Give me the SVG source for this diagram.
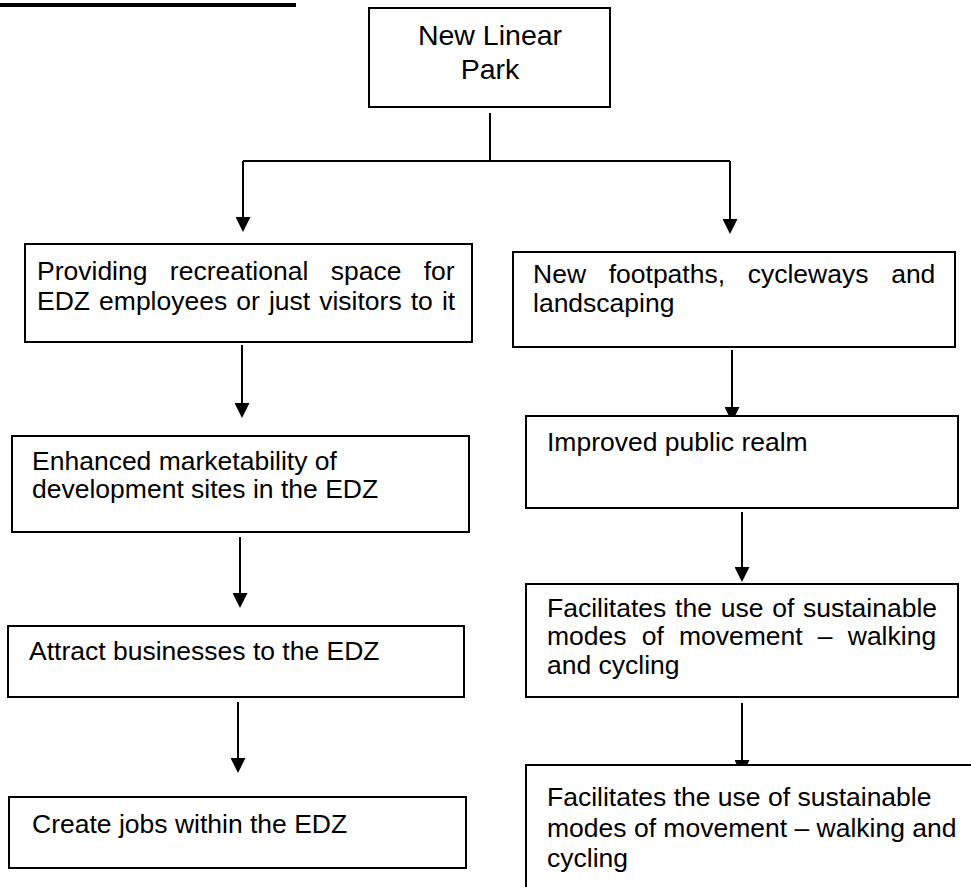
<svg xmlns="http://www.w3.org/2000/svg" width="971" height="887" viewBox="0 0 971 887">
<style>
.box{fill:#fff;stroke:#000;stroke-width:2}
.t{font-family:"Liberation Sans",Arial,sans-serif;font-size:26.5px;fill:#000}
.c{fill:none;stroke:#000;stroke-width:2}
</style>
<defs>
<marker id="ah" viewBox="0 0 15 15" refX="7" refY="7.5" markerWidth="15" markerHeight="15" markerUnits="userSpaceOnUse" orient="auto">
<path d="M0,0 L15,7.5 L0,15 z" fill="#000"/>
</marker>
</defs>
<rect x="0" y="3" width="296" height="4" fill="#000"/>
<g id="connectors">
<path class="c" d="M490,113 V161"/>
<path class="c" d="M243,161 H730"/>
<path class="c" d="M243,161 V224" marker-end="url(#ah)"/>
<path class="c" d="M730,161 V226" marker-end="url(#ah)"/>
<path class="c" d="M242,345 V410" marker-end="url(#ah)"/>
<path class="c" d="M240,537 V600" marker-end="url(#ah)"/>
<path class="c" d="M238,702 V765" marker-end="url(#ah)"/>
<path class="c" d="M732,350 V414" marker-end="url(#ah)"/>
<path class="c" d="M742,512 V574" marker-end="url(#ah)"/>
<path class="c" d="M742,703 V767" marker-end="url(#ah)"/>
</g>
<g id="park">
<rect class="box" x="369" y="8" width="241" height="99"/>
<text class="t" x="490" y="45" text-anchor="middle" style="font-size:28.5px">New Linear</text>
<text class="t" x="490" y="79" text-anchor="middle" style="font-size:28.5px">Park</text>
</g>
<g id="recreational">
<rect class="box" x="25" y="244" width="447" height="98"/>
<text class="t" x="37" y="280" word-spacing="15">Providing recreational space for</text>
<text class="t" x="37" y="310" word-spacing="1.7">EDZ employees or just visitors to it</text>
</g>
<g id="footpaths">
<rect class="box" x="513" y="252" width="442" height="95"/>
<text class="t" x="533" y="283" word-spacing="15.3">New footpaths, cycleways and</text>
<text class="t" x="533" y="312">landscaping</text>
</g>
<g id="marketability">
<rect class="box" x="12" y="436" width="457" height="96"/>
<text class="t" x="32" y="470">Enhanced marketability of</text>
<text class="t" x="32" y="498">development sites in the EDZ</text>
</g>
<g id="realm">
<rect class="box" x="526" y="416" width="432" height="92"/>
<text class="t" x="547" y="451">Improved public realm</text>
</g>
<g id="businesses">
<rect class="box" x="8" y="626" width="456" height="71"/>
<text class="t" x="29" y="660">Attract businesses to the EDZ</text>
</g>
<g id="sustainable1">
<rect class="box" x="526" y="584" width="432" height="113"/>
<text class="t" x="547" y="617" word-spacing="1.4">Facilitates the use of sustainable</text>
<text class="t" x="547" y="645" word-spacing="7.8">modes of movement – walking</text>
<text class="t" x="547" y="674">and cycling</text>
</g>
<g id="jobs">
<rect class="box" x="9" y="797" width="457" height="71"/>
<text class="t" x="32" y="833">Create jobs within the EDZ</text>
</g>
<g id="sustainable2">
<rect class="box" x="526" y="765" width="500" height="200"/>
<text class="t" x="547" y="806">Facilitates the use of sustainable</text>
<text class="t" x="547" y="836.5">modes of movement – walking and</text>
<text class="t" x="547" y="867">cycling</text>
</g>
</svg>
